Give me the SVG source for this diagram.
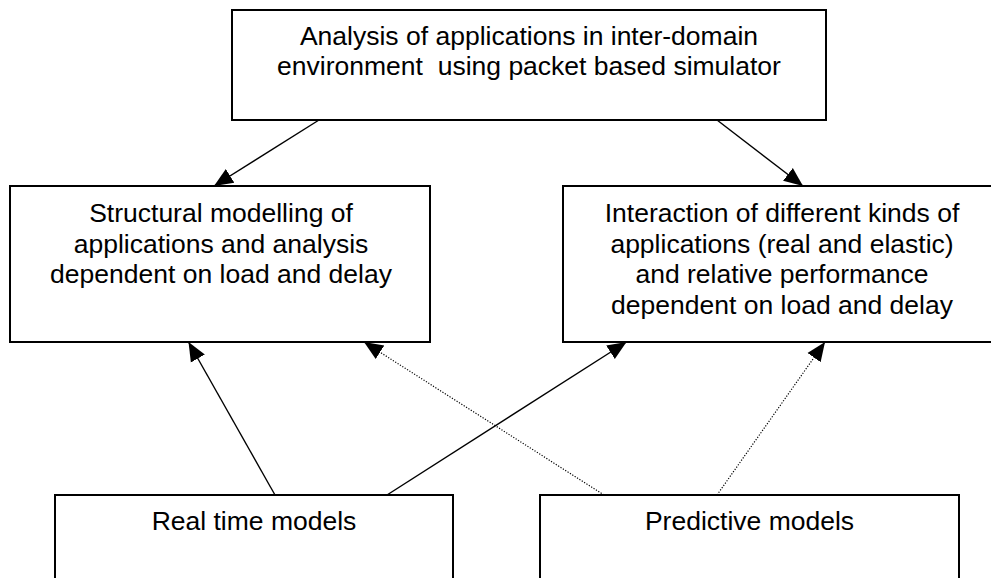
<svg xmlns="http://www.w3.org/2000/svg" width="991" height="578" viewBox="0 0 991 578">
  <style>
    .box { fill: #ffffff; stroke: #000000; stroke-width: 2; }
    .lbl { font-family: "Liberation Sans", Arial, sans-serif; font-size: 26.5px; fill: #000000; text-anchor: middle; white-space: pre; }
    .solid { stroke: #000000; stroke-width: 1.4; fill: none; marker-end: url(#arrow); }
    .dotted { stroke: #000000; stroke-width: 1.2; stroke-dasharray: 1.2 1.6; fill: none; marker-end: url(#arrow); }
  </style>
  <defs>
    <marker id="arrow" markerUnits="userSpaceOnUse" markerWidth="20" markerHeight="18" viewBox="0 0 20 18" refX="19" refY="9" orient="auto">
      <path d="M0,1 L19,9 L0,17 z" fill="#000000" stroke="none"/>
    </marker>
  </defs>
  <rect width="991" height="578" fill="#ffffff"/>

  <g id="connectors">
    <line class="solid" x1="319" y1="120" x2="214" y2="186"/>
    <line class="solid" x1="717" y1="120" x2="803" y2="186"/>
    <line class="solid" x1="275" y1="495" x2="188.5" y2="342"/>
    <line class="solid" x1="387" y1="495" x2="626.5" y2="342"/>
    <line class="dotted" x1="604" y1="495" x2="364" y2="342"/>
    <line class="dotted" x1="717" y1="495" x2="825" y2="342"/>
  </g>

  <g id="node-analysis">
    <rect class="box" x="232" y="10" width="594" height="110"/>
    <text class="lbl" x="529" y="45">Analysis of applications in inter-domain</text>
    <text class="lbl" x="529" y="75">environment  using packet based simulator</text>
  </g>

  <g id="node-structural">
    <rect class="box" x="10" y="186" width="420" height="156"/>
    <text class="lbl" x="221" y="222">Structural modelling of</text>
    <text class="lbl" x="221" y="252.5">applications and analysis</text>
    <text class="lbl" x="221" y="283">dependent on load and delay</text>
  </g>

  <g id="node-interaction">
    <rect class="box" x="563" y="186" width="440" height="156"/>
    <text class="lbl" x="782" y="222">Interaction of different kinds of</text>
    <text class="lbl" x="782" y="252.5">applications (real and elastic)</text>
    <text class="lbl" x="782" y="283">and relative performance</text>
    <text class="lbl" x="782" y="313.5">dependent on load and delay</text>
  </g>

  <g id="node-realtime">
    <rect class="box" x="55" y="495" width="398" height="100"/>
    <text class="lbl" x="254" y="530">Real time models</text>
  </g>

  <g id="node-predictive">
    <rect class="box" x="540" y="495" width="419" height="100"/>
    <text class="lbl" x="749.5" y="530">Predictive models</text>
  </g>
</svg>
